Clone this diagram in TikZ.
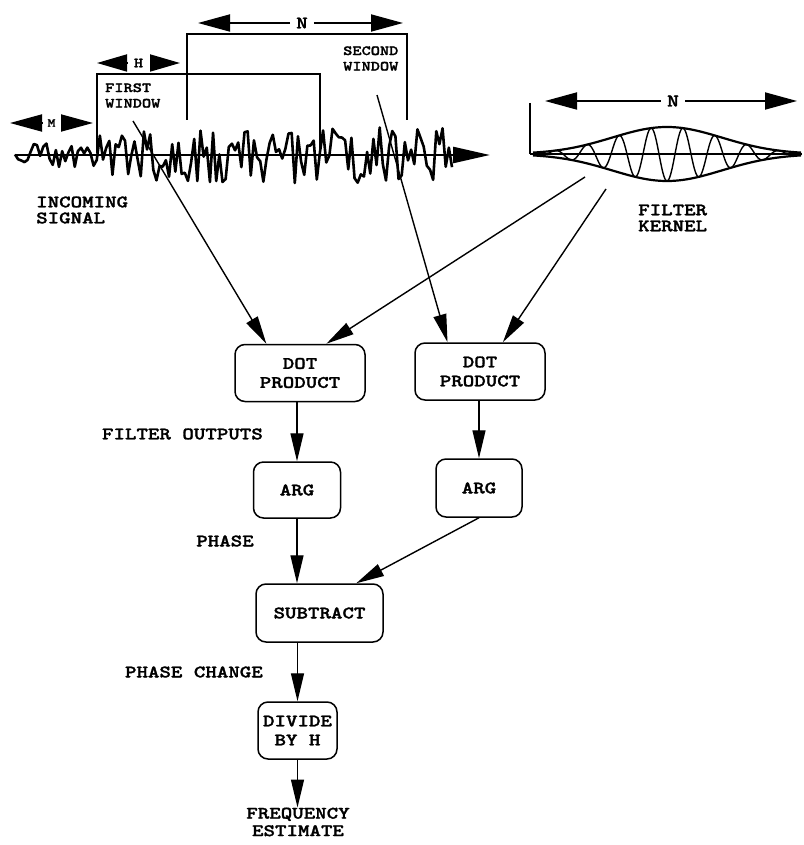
\documentclass[tikz,border=0pt]{standalone}
\usepackage{fontspec}
\newfontfamily\cour{lmmonolt10-bold.otf}[FakeStretch=1.25, FakeBold=1.6]
\usetikzlibrary{arrows.meta,calc}
\begin{document}
\begin{tikzpicture}[x=1pt,y=-1pt,
  txt/.style={font=\cour\fontsize{17.5}{17.5}\selectfont, inner sep=0pt, align=center},
  ltxt/.style={font=\cour\fontsize{17.5}{16}\selectfont, inner sep=0pt, align=left},
  stxt/.style={font=\cour\fontsize{14}{15.5}\selectfont, inner sep=0pt, align=left},
  box/.style={draw, line width=1.5pt, rounded corners=10pt, inner sep=0pt,
              font=\cour\fontsize{17.5}{19}\selectfont, align=center},
  conn/.style={line width=1.4pt, -{Triangle[length=28pt,width=13pt]}},
  dim/.style={line width=1.8pt, -{Triangle[length=32pt,width=17pt]}},
  dimH/.style={line width=1.8pt, -{Triangle[length=30pt,width=17pt]}},
  win/.style={line width=2.5pt},
  sig/.style={line width=2.6pt, line join=round}]
\useasboundingbox (0,0) rectangle (803,845);

% ---------- incoming signal ----------
\pgfmathsetseed{11}
\draw[sig] plot[domain=15:452, samples=140, variable=\x] (\x,{155-(\x<97?14:28)*rand});
\coordinate (axL) at (15,155);
\coordinate (axR) at (490,155);
\draw[line width=2.5pt, -{Triangle[length=37pt,width=16pt]}] (axL) -- (axR);

% windows
\draw[win] (97,153) -- (97,74) -- (320,74) -- (320,153);
\draw[win] (187,120) -- (187,34) -- (407,34) -- (407,120);

% dimension arrows
\node[font=\cour\fontsize{12}{12}\selectfont, inner sep=0pt, minimum width=19pt] (mM) at (51.5,123) {M};
\coordinate (mL) at (10,123); \coordinate (mR) at (93,123);
\draw[dim] (mM.west) -- (mL);
\draw[dim] (mM.east) -- (mR);

\node[font=\cour\fontsize{14}{14}\selectfont, inner sep=0pt, minimum width=23pt] (hH) at (138.5,63) {H};
\coordinate (hL) at (97,63); \coordinate (hR) at (180,63);
\draw[dimH] (hH.west) -- (hL);
\draw[dimH] (hH.east) -- (hR);

\node[font=\cour\fontsize{17.5}{17.5}\selectfont, inner sep=6pt] (nT) at (302,23) {N};
\coordinate (nTL) at (198,23); \coordinate (nTR) at (403,23);
\draw[dim] (nT.west) -- (nTL);
\draw[dim] (nT.east) -- (nTR);

\node[stxt, anchor=west] (fw) at (105,95.5) {FIRST\\WINDOW};
\node[stxt, anchor=west] (sw) at (343,58.5) {SECOND\\WINDOW};
\node[ltxt, anchor=west] (inc) at (36,210) {INCOMING\\SIGNAL};

% ---------- filter kernel ----------
\draw[line width=1.5pt] (530,103) -- (530,154);
\draw[line width=2.5pt] (530,154) -- (802,154);
\draw[line width=2.2pt] plot[domain=533:801, samples=120, variable=\x]
  (\x,{154-27*exp(-0.5*((\x-667)/55)^2)});
\draw[line width=2.2pt] plot[domain=533:801, samples=120, variable=\x]
  (\x,{154+27*exp(-0.5*((\x-667)/55)^2)});
\draw[line width=1.4pt] plot[domain=533:801, samples=500, variable=\x]
  (\x,{154+27*exp(-0.5*((\x-667)/55)^2)*cos(11.25*(\x-667))});

\node[font=\cour\fontsize{18}{18}\selectfont, inner sep=6pt] (nK) at (673,101) {N};
\coordinate (nKL) at (545,101); \coordinate (nKR) at (797,101);
\draw[dim] (nK.west) -- (nKL);
\draw[dim] (nK.east) -- (nKR);

\node[ltxt, anchor=west] (fk) at (638,218) {FILTER\\KERNEL};

% ---------- processing boxes ----------
\node[box, minimum width=130pt, minimum height=57pt] (dot1) at (300,373) {DOT\\PRODUCT};
\node[box, minimum width=130pt, minimum height=57pt] (dot2) at (480,371.5) {DOT\\PRODUCT};
\node[box, minimum width=87pt, minimum height=56pt] (arg1) at (297,490) {ARG};
\node[box, minimum width=86pt, minimum height=58pt] (arg2) at (479,488) {ARG};
\node[box, minimum width=127pt, minimum height=58pt] (sub) at (319.5,613) {SUBTRACT};
\node[box, minimum width=79pt, minimum height=57pt] (div) at (297.5,730.5) {DIVIDE\\BY H};

\node[txt] (freq) at (298,822) {FREQUENCY\\ESTIMATE};

\node[txt, anchor=east] (lfo) at (263,434) {FILTER OUTPUTS};
\node[txt] (lph) at (225,541) {PHASE};
\node[txt, anchor=east] (lpc) at (263,672) {PHASE CHANGE};

% ---------- connectors ----------
\coordinate (w1) at (133,121);
\coordinate (w2) at (377,95);
\coordinate (k1) at (585,177);
\coordinate (k2) at (606,189);
\draw[conn] (w1) -- (dot1.139);
\draw[conn] (k1) -- (dot1.48);
\draw[conn] (w2) -- (dot2.138);
\draw[conn] (k2) -- (dot2.52);

\draw[conn] (dot1.south -| arg1) -- (arg1.north);
\draw[conn] (arg2.north |- dot2.south) -- (arg2.north);
\draw[conn] (arg1.south) -- (arg1.south |- sub.north);
\draw[conn] (arg2.south) -- (sub.39);
\draw[conn] (div.north |- sub.south) -- (div.north);
\draw[conn] (div.south) -- (div.south |- freq.north);
\end{tikzpicture}
\end{document}
